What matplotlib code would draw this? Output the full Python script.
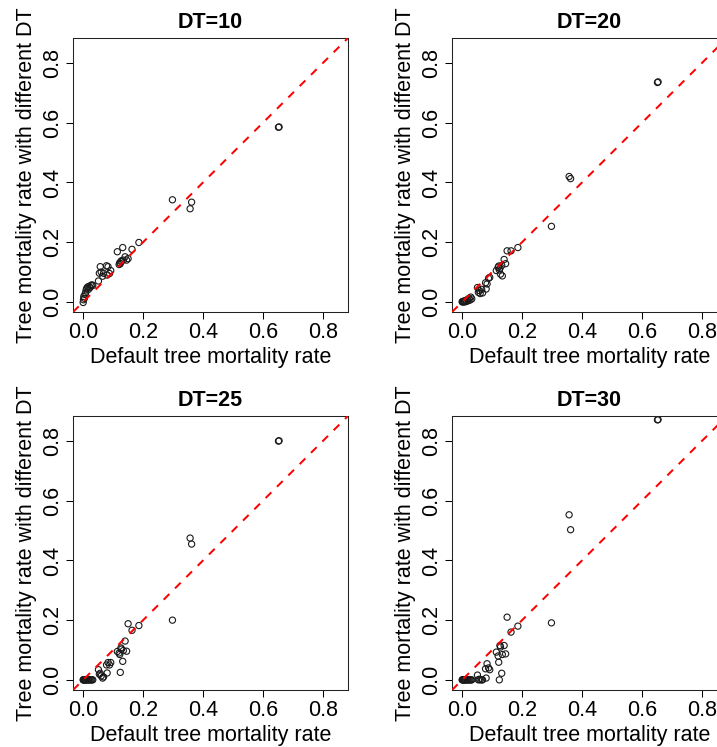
import matplotlib
matplotlib.use('Agg')
import matplotlib.pyplot as plt
import numpy as np

plt.rcParams['font.family'] = ['Liberation Sans', 'DejaVu Sans']

# default tree mortality rate (shared by all panels)
default_rate = [0.000, 0.001, 0.002, 0.004, 0.006, 0.008, 0.010, 0.012,
                0.015, 0.018, 0.020, 0.023, 0.026, 0.029, 0.032,
                0.051, 0.054, 0.057, 0.060, 0.065, 0.068, 0.078, 0.080,
                0.083, 0.088, 0.092,
                0.114, 0.120, 0.122, 0.124, 0.126, 0.128, 0.132, 0.134,
                0.140, 0.145, 0.150, 0.163, 0.186,
                0.298, 0.357, 0.362, 0.652, 0.654]

rate_dt10 = [-0.002, 0.007, 0.018, 0.012, 0.025, 0.030, 0.040, 0.046,
             0.050, 0.042, 0.052, 0.048, 0.055, 0.057, 0.055,
             0.070, 0.096, 0.118, 0.100, 0.086, 0.096, 0.121, 0.090,
             0.118, 0.095, 0.105,
             0.168, 0.125, 0.131, 0.128, 0.135, 0.138, 0.182, 0.140,
             0.151, 0.140, 0.145, 0.176, 0.199,
             0.342, 0.312, 0.334, 0.585, 0.586]

rate_dt20 = [0.000, 0.001, 0.000, 0.002, 0.000, 0.003, 0.000, 0.005,
             0.002, 0.008, 0.004, 0.012, 0.006, 0.016, 0.010,
             0.048, 0.032, 0.038, 0.028, 0.042, 0.030, 0.064, 0.043,
             0.060, 0.079, 0.082,
             0.105, 0.116, 0.120, 0.107, 0.112, 0.093, 0.122, 0.087,
             0.142, 0.128, 0.171, 0.171, 0.182,
             0.253, 0.420, 0.413, 0.735, 0.737]

rate_dt25 = [0.000, 0.000, 0.000, 0.000, 0.000, 0.000, 0.000, 0.000,
             0.000, 0.000, 0.000, 0.000, 0.000, 0.000, 0.000,
             0.034, 0.019, 0.022, 0.013, 0.006, 0.010, 0.050, 0.023,
             0.058, 0.050, 0.058,
             0.095, 0.090, 0.085, 0.025, 0.107, 0.103, 0.062, 0.098,
             0.130, 0.096, 0.188, 0.166, 0.182,
             0.200, 0.475, 0.455, 0.800, 0.801]

rate_dt30 = [0.000, 0.000, 0.000, 0.000, 0.000, 0.000, 0.000, 0.000,
             0.000, 0.000, 0.000, 0.000, 0.000, 0.000, 0.000,
             0.016, 0.000, 0.002, 0.000, 0.000, 0.000, 0.037, 0.006,
             0.054, 0.040, 0.034,
             0.093, 0.080, 0.059, 0.000, 0.115, 0.110, 0.022, 0.085,
             0.115, 0.087, 0.210, 0.160, 0.180,
             0.191, 0.553, 0.503, 0.871, 0.872]

panels = [('DT=10', rate_dt10), ('DT=20', rate_dt20),
          ('DT=25', rate_dt25), ('DT=30', rate_dt30)]
tick_vals = [0.0, 0.2, 0.4, 0.6, 0.8]
tick_labels = ['0.0', '0.2', '0.4', '0.6', '0.8']

fs = 15.5
fig = plt.figure(figsize=(7.17, 7.47), dpi=100)
# axes boxes in figure fractions (right column runs off the right edge)
lefts = [0.1018, 0.6304]
bottoms = [0.5823, 0.0763]
w, h = 0.3835, 0.3668

for i, (title, rate) in enumerate(panels):
    ax = fig.add_axes([lefts[i % 2], bottoms[i // 2], w, h])
    ax.scatter(default_rate, rate, s=20, facecolors='none',
               edgecolors='#1a1a1a', linewidths=0.8, zorder=2)
    ax.axline((0, 0), (1, 1), color='red', lw=1.44, ls=(0, (4, 4)), zorder=3)
    ax.set_xlim(-0.034, 0.884)
    ax.set_ylim(-0.034, 0.884)
    ax.set_xticks(tick_vals)
    ax.set_xticklabels(tick_labels)
    ax.set_yticks(tick_vals)
    ax.set_yticklabels(tick_labels, rotation=90, va='center')
    ax.tick_params(direction='out', length=5, width=0.75, pad=2,
                   labelsize=fs, colors='black')
    for sp in ax.spines.values():
        sp.set_linewidth(0.75)
        sp.set_color('#222222')
    ax.set_title(title, fontsize=fs, fontweight='bold', pad=7)
    ax.set_xlabel('Default tree mortality rate', fontsize=fs)
    ax.set_ylabel('Tree mortality rate with different DT', fontsize=fs)
    ax.xaxis.set_label_coords(0.5, -0.126)
    ax.yaxis.set_label_coords(-0.131, 0.5)

fig.savefig('out.png', dpi=100)
